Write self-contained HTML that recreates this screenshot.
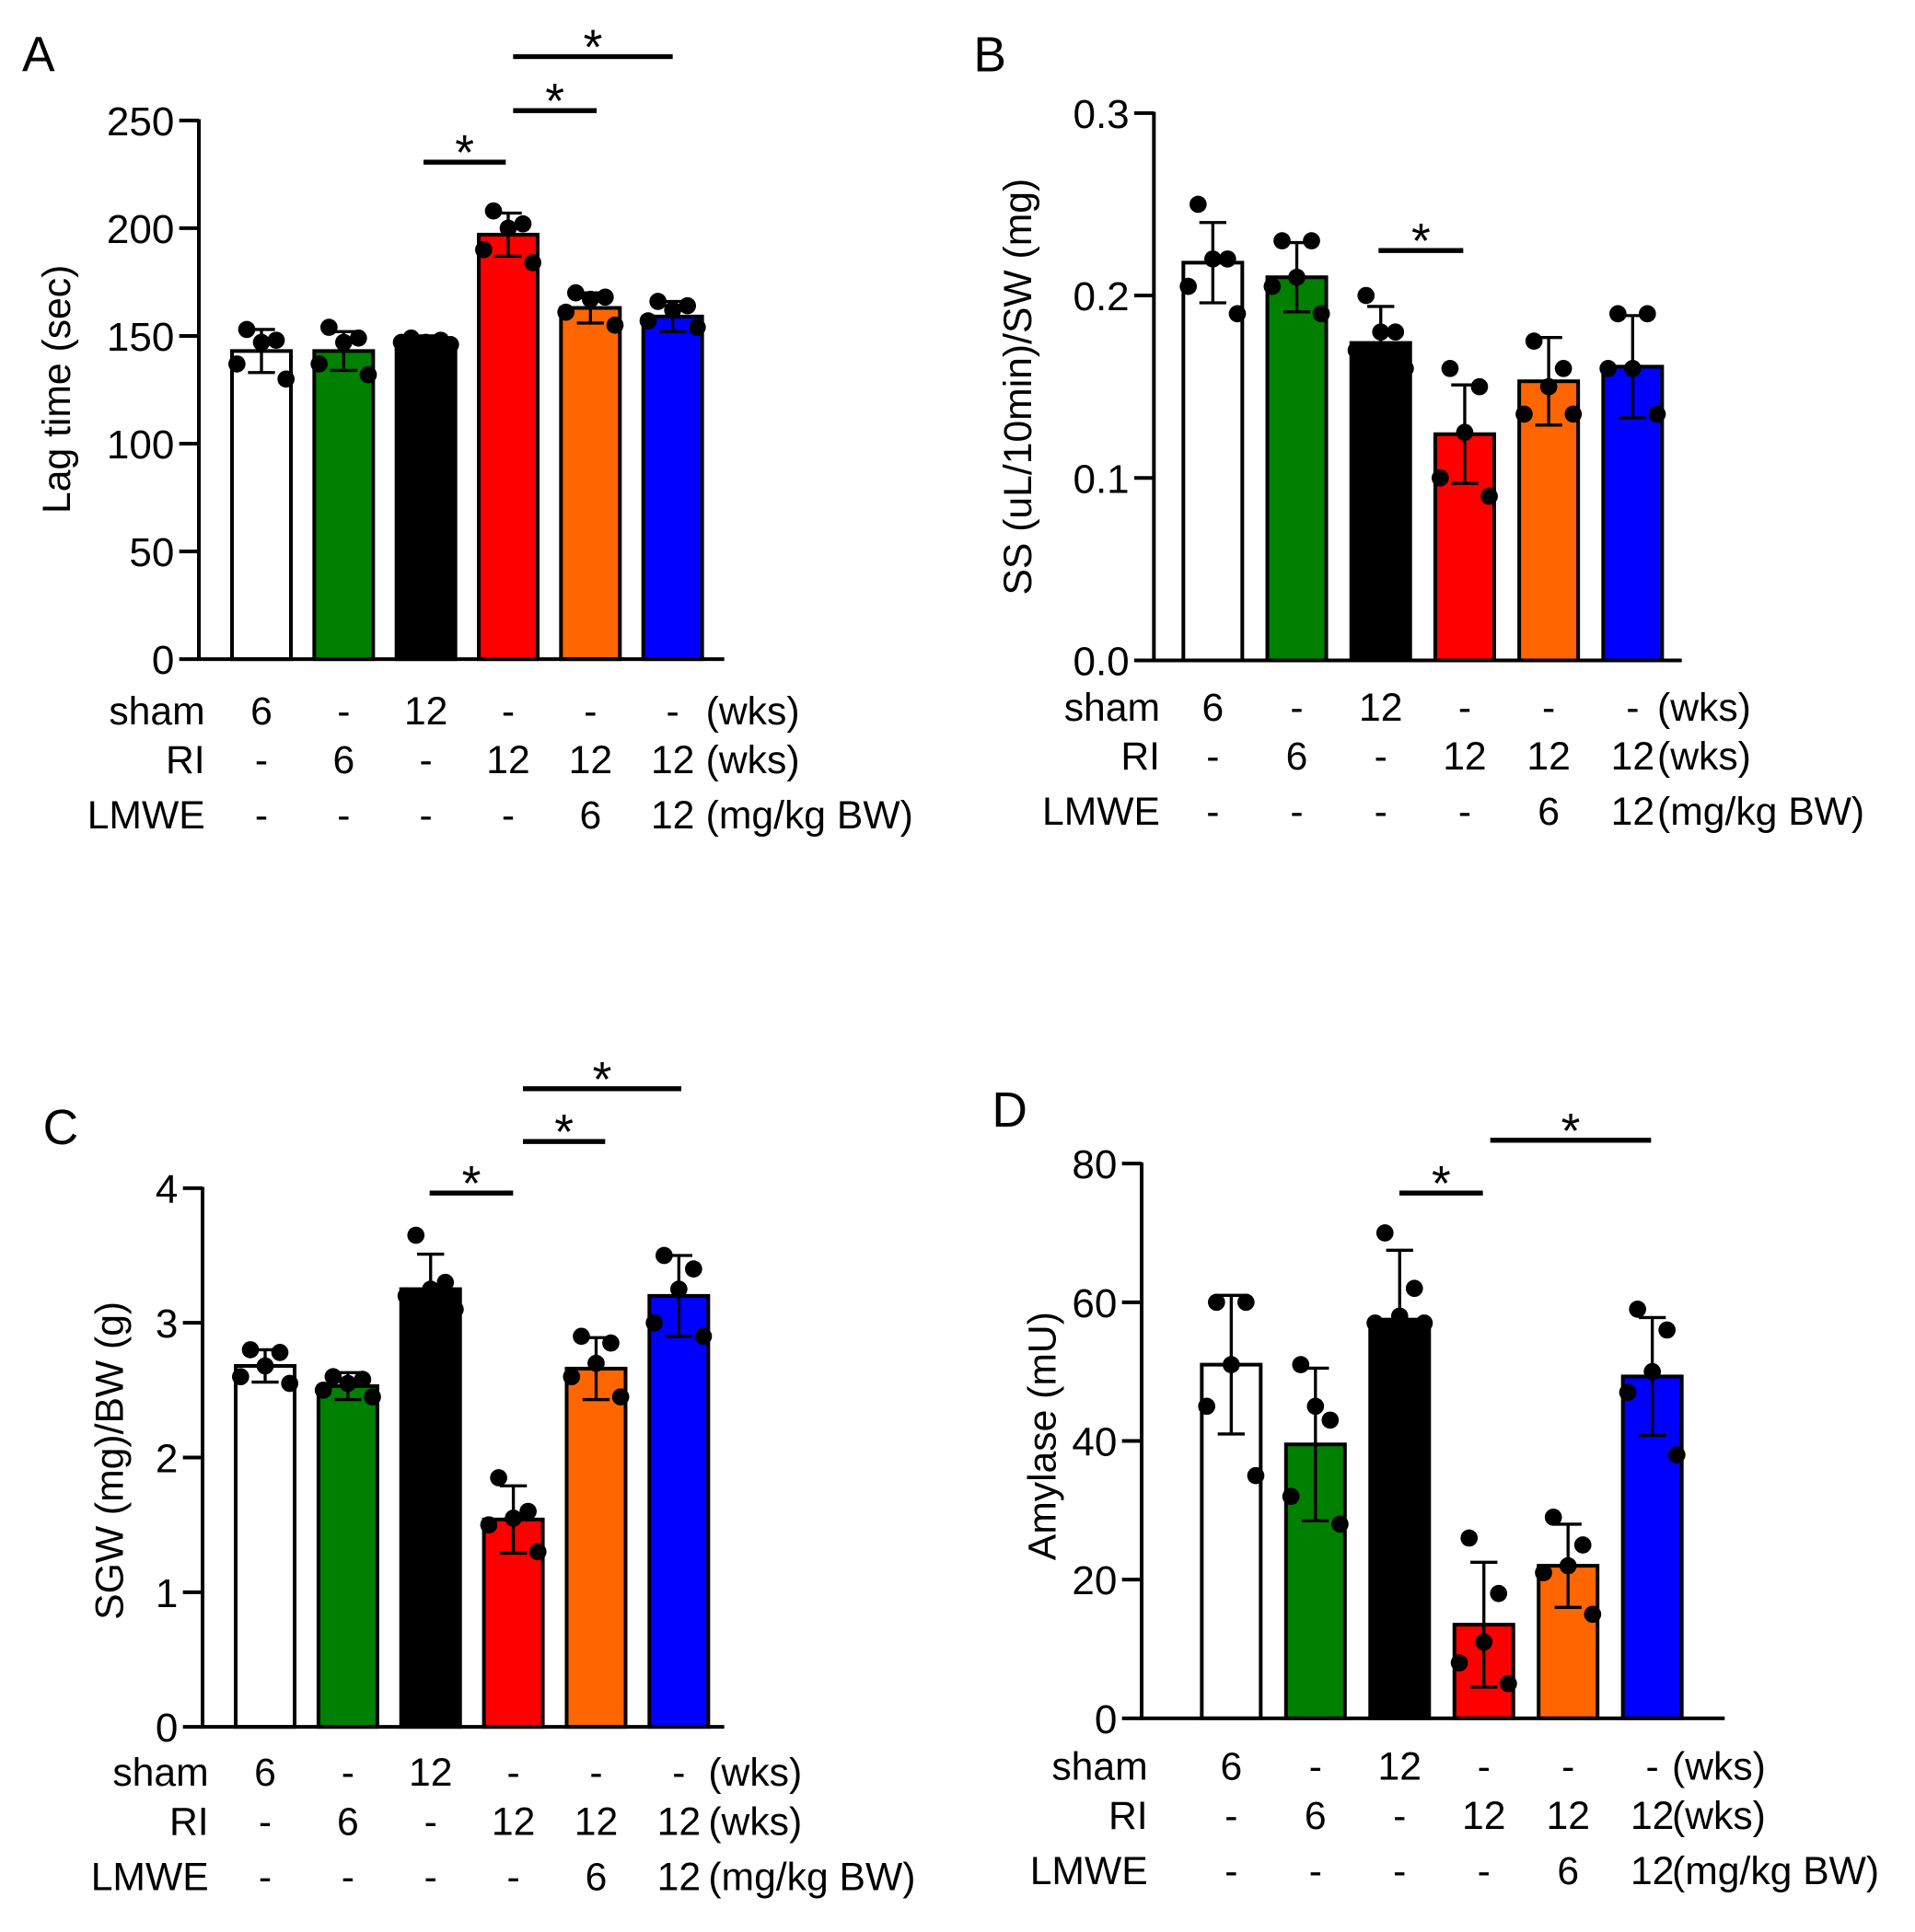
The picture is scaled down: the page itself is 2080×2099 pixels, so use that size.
<!DOCTYPE html>
<html><head><meta charset="utf-8"><style>
html,body{margin:0;padding:0;background:#fff}
svg{display:block}
text{font-family:"Liberation Sans",Arial,sans-serif;fill:#000}
</style></head><body>
<svg id="fig" width="2080" height="2099" viewBox="0 0 1560 1574" xmlns="http://www.w3.org/2000/svg"></svg>
<script>
const groups=["sham6","RI6","sham12","RI12","RI12+LMWE6","RI12+LMWE12"];
const colors=["#ffffff","#008000","#000000","#ff0000","#ff6600","#0000ff"];
const aMeans=[143,143,147,197,163,159];
const aErr=[10,9,3,10,7,7];
const aDots=[[153,148,147,137,130],[154,149,147,137,132],[149,148,147,147,146],[208,202,200,190,184],[170,168,167,161,155],[166,164,162,157,154]];
const aTicks=[0,50,100,150,200,250];
const bMeans=[0.218,0.210,0.174,0.124,0.153,0.161];
const bErr=[0.022,0.019,0.020,0.027,0.024,0.028];
const bDots=[[0.25,0.22,0.22,0.205,0.19],[0.23,0.23,0.21,0.205,0.19],[0.20,0.18,0.18,0.17,0.16],[0.16,0.15,0.125,0.10,0.09],[0.175,0.16,0.15,0.135,0.135],[0.19,0.19,0.16,0.16,0.135]];
const bTicks=[0,0.1,0.2,0.3];
const cMeans=[2.68,2.53,3.25,1.54,2.66,3.20];
const cErr=[0.12,0.10,0.26,0.25,0.23,0.30];
const cDots=[[2.8,2.78,2.68,2.6,2.55],[2.6,2.58,2.55,2.5,2.45],[3.65,3.3,3.25,3.2,3.1],[1.85,1.6,1.55,1.5,1.3],[2.9,2.85,2.7,2.6,2.45],[3.5,3.4,3.25,3.0,2.9]];
const cTicks=[0,1,2,3,4];
const dMeans=[51,39.5,57.5,13.5,22,49.3];
const dErr=[10,11,10,9,6,8.5];
const dDots=[[60,60,51,45,35],[51,43,45,32,28],[70,62,58,57,57],[26,18,11,8,5],[29,25,22,21,15],[59,56,50,47,38]];
const dTicks=[0,20,40,60,80];
const rowSham=["6","-","12","-","-","-"];
const rowRI=["-","6","-","12","12","12"];
const rowL=["-","-","-","-","6","12"];

const NS="http://www.w3.org/2000/svg";
const svg=document.getElementById('fig');
function mk(tag,attrs,parent){const e=document.createElementNS(NS,tag);for(const k in attrs)e.setAttribute(k,attrs[k]);(parent||svg).appendChild(e);return e;}
function txt(s,x,y,size,anchor,parent){const t=mk('text',{x:x,y:y,'font-size':size,'text-anchor':anchor||'middle'},parent);t.textContent=s;return t;}

const offs=[-12,12,0,-20,20];
function panel(p){
  const g=mk('g',{});
  
  
  const y=v=>p.y0-(v-p.vmin)/(p.vmax-p.vmin)*(p.y0-p.y1);
  const L=txt(p.letter,p.lx,p.ly,40,'start',g);
  
  
  p.means.forEach((m,i)=>{
    const cx=p.x0+p.c0+i*p.step;
    const r=mk('rect',{x:cx-24,y:y(m),width:48,height:p.y0-y(m),fill:colors[i],stroke:'#000','stroke-width':3},g);
    
    
    const e=mk('path',{d:`M${cx} ${y(m)}V${y(m+p.err[i])}M${cx-11} ${y(m+p.err[i])}H${cx+11}M${cx} ${y(m)}V${y(m-p.err[i])}M${cx-11} ${y(m-p.err[i])}H${cx+11}`,stroke:'#000','stroke-width':2.5,fill:'none'},g);
    
    
    p.dots[i].forEach((v,j)=>{
      const d=mk('circle',{cx:cx+offs[j],cy:y(v),r:7,fill:'#000'},g);
      
      
    });
  });
  const ax=mk('path',{d:`M${p.x0} ${p.y1-1}V${p.y0}H${p.x1}`,stroke:'#000','stroke-width':3,fill:'none'},g);
  
  
  p.ticks.forEach(t=>{
    mk('line',{x1:p.x0-16,x2:p.x0,y1:y(t),y2:y(t),stroke:'#000','stroke-width':3},g);
    const tl=txt(p.fmt(t),p.x0-20,y(t)+12,33,'end',g);
    
    
  });
  const yt=txt(p.ytitle,0,0,32,'middle',g);
  yt.setAttribute('transform',`translate(${p.tx},${p.ty}) rotate(-90)`);
  
  
  const rows=[["sham",rowSham,"(wks)"],["RI",rowRI,"(wks)"],["LMWE",rowL,"(mg/kg BW)"]];
  rows.forEach((r,k)=>{
    const ry=p.rowY[k];
    const a=txt(r[0],p.x0+5,ry,32,'end',g);
    
    
    r[1].forEach((s,i)=>txt(s,p.x0+p.c0+i*p.step,ry,32,'middle',g));
    txt(r[2],p.ux,ry,32,'start',g);
  });
  p.sig.forEach(s=>{
    const l=mk('line',{x1:s[0],x2:s[1],y1:s[2],y2:s[2],stroke:'#000','stroke-width':4},g);
    
    
    txt('*',(s[0]+s[1])/2,s[2]+6,40,'middle',g);
  });
}
panel({letter:'A',lx:18,ly:58,x0:162,x1:590,y0:537,y1:98,vmin:0,vmax:250,c0:51,step:67,means:aMeans,err:aErr,dots:aDots,ticks:aTicks,fmt:t=>String(t),ytitle:'Lag time (sec)',tx:57,ty:317,rowY:[590,630,675],ux:575,sig:[[345,412,132],[418,486,90],[418,548,46]]});
panel({letter:'B',lx:793,ly:58,x0:940,x1:1370,y0:538,y1:92,vmin:0,vmax:0.3,c0:48,step:68.4,means:bMeans,err:bErr,dots:bDots,ticks:bTicks,fmt:t=>t.toFixed(1),ytitle:'SS (uL/10min)/SW (mg)',tx:840,ty:315,rowY:[587,627,672],ux:1350,sig:[[1123,1192,204]]});
panel({letter:'C',lx:35,ly:932,x0:165,x1:590,y0:1407,y1:968,vmin:0,vmax:4,c0:51,step:67.4,means:cMeans,err:cErr,dots:cDots,ticks:cTicks,fmt:t=>String(t),ytitle:'SGW (mg)/BW (g)',tx:100,ty:1190,rowY:[1455,1495,1540],ux:577,sig:[[350,418,972],[426,493,930],[426,555,887]]});
panel({letter:'D',lx:808,ly:918,x0:930,x1:1405,y0:1400,y1:948,vmin:0,vmax:80,c0:73,step:68.6,means:dMeans,err:dErr,dots:dDots,ticks:dTicks,fmt:t=>String(t),ytitle:'Amylase (mU)',tx:860,ty:1170,rowY:[1450,1490,1535],ux:1362,sig:[[1140,1208,972],[1214,1345,929]]});
</script>
</body></html>
